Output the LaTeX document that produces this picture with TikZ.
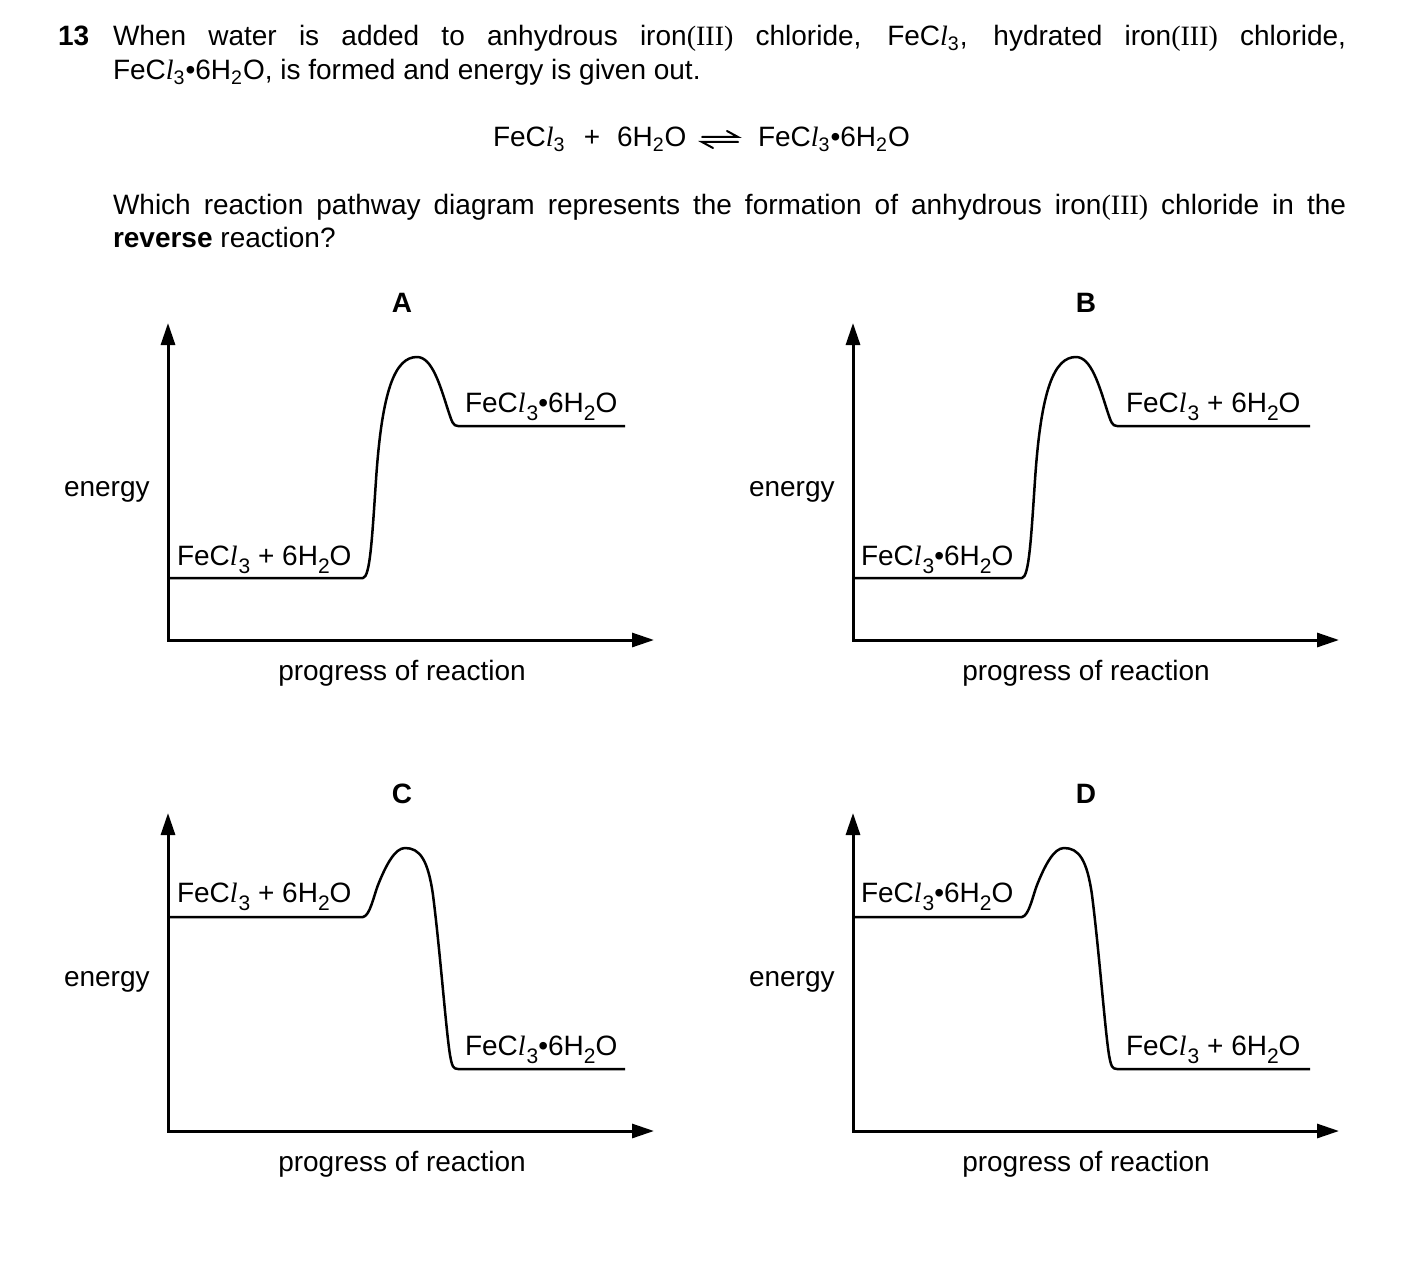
\documentclass[tikz,border=0pt]{standalone}
\usepackage{fontspec}
\setmainfont{Liberation Sans}
\newfontfamily\tms{Liberation Serif}
\usetikzlibrary{arrows.meta}
\newcommand\mcl{C{\tms\itshape l}}
\newcommand\msub[1]{\textsubscript{#1}}
\newcommand\dsub[1]{\raisebox{-0.55ex}{\fontsize{10.5pt}{10pt}\selectfont #1}}
\newcommand\fecl{Fe\mcl\msub{3}}
\newcommand\hyd{Fe\mcl\msub{3}\textbullet 6H\msub{2}O}
\newcommand\dfecl{Fe\mcl\kern0.5pt\dsub{3} + 6H\dsub{2}O}
\newcommand\dhyd{Fe\mcl\kern0.5pt\dsub{3}\textbullet 6H\dsub{2}O}
\tikzset{
  txt/.style={inner sep=0pt, outer sep=0pt, font=\fontsize{14pt}{17pt}\selectfont},
  lbl/.style={txt, anchor=base west},
  axes/.style={line width=1.5pt, {Triangle[length=11pt,width=7pt]}-{Triangle[length=11pt,width=7pt]}},
  curve/.style={line width=1.25pt, line join=round},
  harp/.style={line width=1pt, line cap=round}
}
\begin{document}
\begin{tikzpicture}[x=0.5pt,y=-0.5pt]
\useasboundingbox (0,0) rectangle (1403,1273);
\fill[white] (0,0) rectangle (1403,1273);

% question text
\node[lbl, font=\fontsize{14pt}{17pt}\selectfont\bfseries] (qn) at (58,46) {13};
\node[lbl] (l1) at (113,46) {\makebox[616.5pt][s]{When water is added to anhydrous iron{\tms(III)} chloride, \fecl, hydrated iron{\tms(III)} chloride,}};
\node[lbl] (l2) at (113,80) {\hyd, is formed and energy is given out.};

% equation
\node[lbl] (e1) at (493,147) {\fecl};
\node[txt, anchor=base] (e2) at (592,147) {+};
\node[lbl] (e3) at (617,147) {6H\msub{2}O};
\coordinate (h1) at (702,137);
\coordinate (h2) at (738,137);
\coordinate (h3) at (702,142);
\coordinate (h4) at (738,142);
\draw[harp] (h1) -- (h2) -- ++(-11,-6);
\draw[harp] (h4) -- (h3) -- ++(11,6);
\node[lbl] (e4) at (758,147) {\hyd};

\node[lbl] (l3) at (113,215) {\makebox[616.5pt][s]{Which reaction pathway diagram represents the formation of anhydrous iron{\tms(III)} chloride in the}};
\node[lbl] (l4) at (113,248) {\textbf{reverse} reaction?};

% option letters
\node[txt, anchor=base, font=\fontsize{14pt}{17pt}\selectfont\bfseries] (LA) at (402,313) {A};
\node[txt, anchor=base, font=\fontsize{14pt}{17pt}\selectfont\bfseries] (LB) at (1086,313) {B};
\node[txt, anchor=base, font=\fontsize{14pt}{17pt}\selectfont\bfseries] (LC) at (402,803) {C};
\node[txt, anchor=base, font=\fontsize{14pt}{17pt}\selectfont\bfseries] (LD) at (1086,803) {D};

% axes
\coordinate (oA) at (168,640); \coordinate (yA) at (168,323); \coordinate (xA) at (654,640);
\coordinate (oB) at (853,640); \coordinate (yB) at (853,323); \coordinate (xB) at (1339,640);
\coordinate (oC) at (168,1131); \coordinate (yC) at (168,813); \coordinate (xC) at (654,1131);
\coordinate (oD) at (853,1131); \coordinate (yD) at (853,813); \coordinate (xD) at (1339,1131);
\draw[axes] (yA) -- (oA) -- (xA);
\draw[axes] (yB) -- (oB) -- (xB);
\draw[axes] (yC) -- (oC) -- (xC);
\draw[axes] (yD) -- (oD) -- (xD);

% axis labels
\node[lbl] (enA) at (64,496) {energy};
\node[lbl] (enB) at (749,496) {energy};
\node[lbl] (enC) at (64,986) {energy};
\node[lbl] (enD) at (749,986) {energy};
\node[txt, anchor=base] (prA) at (402,680) {progress of reaction};
\node[txt, anchor=base] (prB) at (1086,680) {progress of reaction};
\node[txt, anchor=base] (prC) at (402,1171) {progress of reaction};
\node[txt, anchor=base] (prD) at (1086,1171) {progress of reaction};

% curve A
\draw[curve] (168,578) -- (363,578) .. controls (370,577) and (372,540) .. (376,480)
  .. controls (382,390) and (395,357) .. (417,357)
  .. controls (432,357) and (440,385) .. (448,410)
  .. controls (452,422) and (453,426) .. (458,426) -- (625,426);
% curve B
\begin{scope}[shift={(659,0)}]
\draw[curve] (194,578) -- (363,578) .. controls (370,577) and (372,540) .. (376,480)
  .. controls (382,390) and (395,357) .. (417,357)
  .. controls (432,357) and (440,385) .. (448,410)
  .. controls (452,422) and (453,426) .. (458,426) -- (651,426);
\end{scope}
% curve C
\draw[curve] (168,917) -- (363,917) .. controls (370,916) and (374,895) .. (378,885)
  .. controls (386,865) and (395,848) .. (405,848)
  .. controls (420,848) and (428,860) .. (433,895)
  .. controls (440,950) and (446,1030) .. (450,1055)
  .. controls (452,1066) and (453,1069) .. (458,1069) -- (625,1069);
% curve D
\begin{scope}[shift={(659,0)}]
\draw[curve] (194,917) -- (363,917) .. controls (370,916) and (374,895) .. (378,885)
  .. controls (386,865) and (395,848) .. (405,848)
  .. controls (420,848) and (428,860) .. (433,895)
  .. controls (440,950) and (446,1030) .. (450,1055)
  .. controls (452,1066) and (453,1069) .. (458,1069) -- (651,1069);
\end{scope}

% level labels
\node[lbl] (a1) at (177,565) {\dfecl};
\node[lbl] (a2) at (465,412) {\dhyd};
\node[lbl] (b1) at (861,565) {\dhyd};
\node[lbl] (b2) at (1126,412) {\dfecl};
\node[lbl] (c1) at (177,902) {\dfecl};
\node[lbl] (c2) at (465,1055) {\dhyd};
\node[lbl] (d1) at (861,902) {\dhyd};
\node[lbl] (d2) at (1126,1055) {\dfecl};
\end{tikzpicture}
\end{document}
